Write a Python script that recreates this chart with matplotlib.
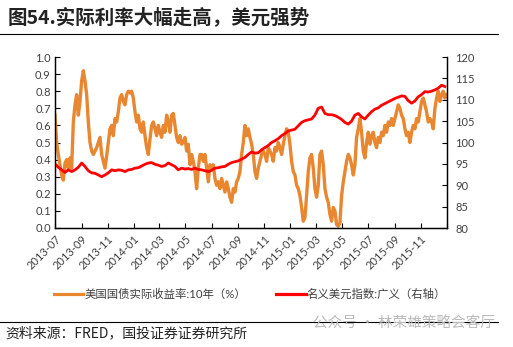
import matplotlib
matplotlib.use("Agg")
import matplotlib.pyplot as plt
import matplotlib.dates as mdates
import pandas as pd
import numpy as np
from matplotlib.lines import Line2D

plt.rcParams['font.family'] = ['Lato', 'Noto Sans CJK SC', 'DejaVu Sans']

# ---- data ----
real_yield_start = "2013-07-01"
real_yield_end = "2015-12-31"
real_yield = [
    0.66, 0.50, 0.43, 0.37, 0.31, 0.28, 0.38, 0.40, 0.35, 0.41,
    0.35, 0.62, 0.72, 0.78, 0.66, 0.74, 0.86, 0.92, 0.86, 0.78,
    0.62, 0.50, 0.45, 0.43, 0.45, 0.47, 0.50, 0.53, 0.43, 0.39,
    0.35, 0.42, 0.50, 0.58, 0.60, 0.54, 0.64, 0.62, 0.68, 0.76,
    0.78, 0.74, 0.72, 0.78, 0.80, 0.79, 0.80, 0.76, 0.68, 0.62,
    0.66, 0.58, 0.56, 0.62, 0.54, 0.47, 0.43, 0.52, 0.60, 0.62,
    0.58, 0.54, 0.60, 0.56, 0.53, 0.60, 0.56, 0.66, 0.62, 0.56,
    0.66, 0.67, 0.60, 0.53, 0.50, 0.54, 0.49, 0.50, 0.53, 0.45,
    0.49, 0.37, 0.43, 0.39, 0.33, 0.23, 0.35, 0.43, 0.43, 0.39,
    0.43, 0.35, 0.27, 0.37, 0.35, 0.37, 0.29, 0.25, 0.27, 0.23,
    0.29, 0.25, 0.21, 0.27, 0.23, 0.18, 0.15, 0.23, 0.21, 0.27,
    0.29, 0.33, 0.43, 0.50, 0.60, 0.54, 0.58, 0.53, 0.49, 0.43,
    0.33, 0.29, 0.35, 0.39, 0.43, 0.45, 0.43, 0.39, 0.47, 0.45,
    0.43, 0.39, 0.47, 0.45, 0.50, 0.47, 0.43, 0.49, 0.54, 0.58,
    0.56, 0.49, 0.39, 0.33, 0.31, 0.25, 0.23, 0.19, 0.12, 0.04,
    0.06, 0.19, 0.33, 0.41, 0.43, 0.35, 0.23, 0.18, 0.25, 0.43,
    0.45, 0.37, 0.23, 0.18, 0.15, 0.08, 0.04, 0.12, 0.10, 0.02,
    0.01, 0.03, 0.19, 0.27, 0.33, 0.39, 0.43, 0.41, 0.37, 0.31,
    0.37, 0.53, 0.58, 0.64, 0.56, 0.45, 0.41, 0.50, 0.56, 0.49,
    0.54, 0.56, 0.50, 0.47, 0.53, 0.50, 0.56, 0.54, 0.60, 0.56,
    0.62, 0.60, 0.64, 0.60, 0.64, 0.68, 0.72, 0.70, 0.66, 0.64,
    0.58, 0.54, 0.56, 0.50, 0.56, 0.60, 0.58, 0.64, 0.62, 0.68,
    0.74, 0.76, 0.72, 0.68, 0.62, 0.64, 0.62, 0.58, 0.70, 0.76,
    0.80, 0.74, 0.78, 0.80, 0.76, 0.78,
]

usd_start = "2013-07-01"
usd_end = "2015-12-27"
usd_index = [
    95.0, 94.2, 93.6, 93.0, 93.6, 93.2, 93.6, 94.2, 95.2, 94.4,
    93.4, 92.9, 92.8, 92.4, 92.0, 92.4, 92.9, 93.6, 93.4, 93.6,
    93.5, 93.2, 93.6, 93.7, 94.0, 94.1, 94.5, 94.9, 95.2, 95.3,
    94.9, 94.7, 94.4, 94.6, 95.2, 94.8, 94.4, 93.6, 94.0, 93.8,
    93.9, 93.7, 94.0, 93.7, 93.6, 93.4, 93.2, 93.5, 94.0, 94.1,
    94.3, 94.4, 94.9, 95.3, 95.5, 95.7, 96.1, 96.5, 97.2, 97.8,
    97.5, 97.6, 98.3, 98.8, 99.3, 100.0, 100.4, 100.9, 101.6, 102.1,
    102.7, 102.9, 103.1, 103.9, 104.7, 105.1, 105.3, 105.5, 106.4, 108.0,
    108.3, 106.8, 106.5, 106.5, 106.3, 105.9, 105.4, 104.7, 104.3, 105.0,
    106.4, 106.8, 106.0, 105.5, 106.4, 107.2, 107.8, 108.1, 108.7, 109.1,
    109.5, 109.9, 110.3, 110.6, 110.9, 110.8, 109.8, 109.2, 109.7, 110.7,
    111.2, 111.9, 111.8, 112.0, 112.3, 112.7, 113.4, 113.1,
]

tick_months = ["2013-07", "2013-09", "2013-11", "2014-01", "2014-03", "2014-05",
               "2014-07", "2014-09", "2014-11", "2015-01", "2015-03", "2015-05",
               "2015-07", "2015-09", "2015-11"]
axis_end = "2016-01-01"

title = "图54.实际利率大幅走高，美元强势"
label_yield = "美国国债实际收益率:10年（%）"
label_usd = "名义美元指数:广义（右轴）"
source = "资料来源：FRED，国投证券证券研究所"
watermark = "公众号 · 林荣雄策略会客厅"

ORANGE = "#E8872F"
RED = "#FF0000"
TXT = "#404040"

yield_dates = pd.date_range(real_yield_start, real_yield_end, periods=len(real_yield))
usd_dates = pd.date_range(usd_start, usd_end, periods=len(usd_index))

W, H = 513, 347
fig = plt.figure(figsize=(W / 100, H / 100), dpi=100)
fig.patch.set_facecolor("white")

ax = fig.add_axes([55 / W, 1 - 228 / H, (447 - 55) / W, (228 - 57) / H])
ax2 = ax.twinx()

ax.plot(yield_dates, real_yield, color=ORANGE, lw=2.4, solid_joinstyle="round")
ax2.plot(usd_dates, usd_index, color=RED, lw=2.0, solid_joinstyle="round")

ax.set_ylim(0, 1.0)
ax.set_yticks(np.arange(0, 1.01, 0.1))
ax.set_yticklabels([f"{v:.1f}" for v in np.arange(0, 1.01, 0.1)])
ax2.set_ylim(80, 120)
ax2.set_yticks(np.arange(80, 121, 5))

xt = [pd.Timestamp(m + "-01") for m in tick_months] + [pd.Timestamp(axis_end)]
ax.set_xlim(pd.Timestamp(real_yield_start), pd.Timestamp(axis_end))
ax.set_xticks(xt)
ax.set_xticklabels(tick_months + [""], rotation=45, ha="right", rotation_mode="anchor")

for a in (ax, ax2):
    a.spines["top"].set_visible(False)
    for s in ("left", "right", "bottom"):
        a.spines[s].set_color("black")
        a.spines[s].set_linewidth(0.9)
    a.tick_params(direction="in", length=3.5, width=0.8, color="black",
                  labelsize=8, labelcolor=TXT, pad=3)
ax.tick_params(axis="x", pad=4)
ax2.tick_params(axis="y", pad=6)
ax.patch.set_visible(False)

# legend
handles = [Line2D([], [], color=ORANGE, lw=2.3), Line2D([], [], color=RED, lw=2.3)]
fig.legend(handles, [label_yield, label_usd], loc="center", bbox_to_anchor=(250 / W, 1 - 294 / H),
           ncol=2, frameon=False, fontsize=8.2, handlelength=2.6, handletextpad=0.1,
           columnspacing=2.6, labelcolor=TXT)

# title & rules
fig.text(8 / W, 1 - 17 / H, title, fontsize=14, fontweight="bold", color="#222222",
         va="center", ha="left", family=["Noto Sans CJK SC", "DejaVu Sans"])
fig.add_artist(Line2D([0, 498 / W], [1 - 34 / H, 1 - 34 / H], color="black", lw=0.8))
fig.add_artist(Line2D([0, 498 / W], [1 - 322 / H, 1 - 322 / H], color="black", lw=0.8))
fig.text(5 / W, 1 - 333 / H, source, fontsize=10, color="#222222", va="center", ha="left",
         style="italic", family=["Noto Sans CJK SC", "DejaVu Sans"])
fig.text(495 / W, 1 - 323 / H, watermark, fontsize=10.5, color="#BBBBBB", va="center", ha="right",
         family=["Noto Sans CJK SC", "DejaVu Sans"])

fig.savefig("out.png", dpi=100, facecolor="white")
